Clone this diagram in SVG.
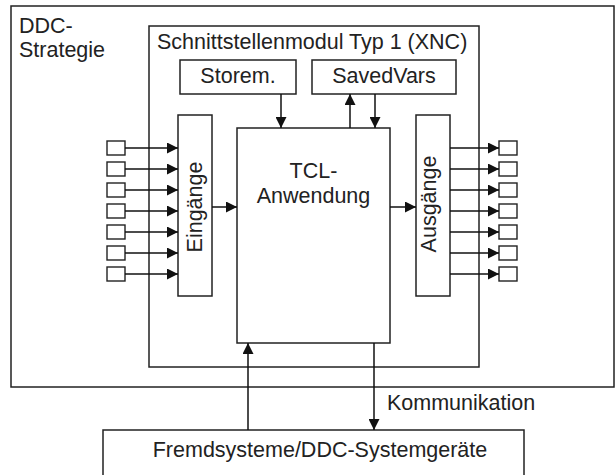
<svg xmlns="http://www.w3.org/2000/svg" width="616" height="475" viewBox="0 0 616 475">
<defs>
<style>
.box{fill:#fff;stroke:#222;stroke-width:1.5}
.sq{fill:#fff;stroke:#222;stroke-width:1.4}
.ln{fill:none;stroke:#111;stroke-width:1.5}
text{font-family:"Liberation Sans",Arial,sans-serif;font-size:21.5px;fill:#222}
.mid{text-anchor:middle}
</style>
<marker id="ah" markerUnits="userSpaceOnUse" markerWidth="11" markerHeight="11" viewBox="0 0 10 10" refX="10" refY="5" orient="auto">
<path d="M0,0 L10,5 L0,10 z" fill="#111"/>
</marker>
</defs>
<rect width="616" height="475" fill="#fff"/>
<g id="ddc-strategie">
<rect class="box" x="11" y="6" width="603" height="381"/>
<text x="19" y="33">DDC-</text>
<text x="19" y="57">Strategie</text>
</g>
<g id="schnittstellenmodul">
<rect class="box" x="149" y="26" width="330" height="341"/>
<text x="157" y="49">Schnittstellenmodul Typ 1 (XNC)</text>
</g>
<g id="storem">
<rect class="box" x="180" y="60" width="116" height="34"/>
<text class="mid" x="238" y="83">Storem.</text>
</g>
<g id="savedvars">
<rect class="box" x="312" y="60" width="144" height="34"/>
<text class="mid" x="384" y="83">SavedVars</text>
</g>
<g id="tcl">
<rect class="box" x="237" y="128" width="153" height="215"/>
<text class="mid" x="313.5" y="178">TCL-</text>
<text class="mid" x="313.5" y="203">Anwendung</text>
</g>
<g id="eingaenge">
<rect class="box" x="178" y="115" width="34" height="181"/>
<text class="mid" transform="translate(202,207) rotate(-90)">Eingänge</text>
</g>
<g id="ausgaenge">
<rect class="box" x="416" y="115" width="34" height="181"/>
<text class="mid" transform="translate(436,204) rotate(-90)">Ausgänge</text>
</g>
<g id="inputs">
<rect class="sq" x="107" y="141" width="18" height="14"/>
<rect class="sq" x="107" y="162" width="18" height="14"/>
<rect class="sq" x="107" y="183" width="18" height="14"/>
<rect class="sq" x="107" y="204" width="18" height="14"/>
<rect class="sq" x="107" y="225" width="18" height="14"/>
<rect class="sq" x="107" y="246" width="18" height="14"/>
<rect class="sq" x="107" y="267" width="18" height="14"/>
</g>
<g id="outputs">
<rect class="sq" x="499" y="141" width="18" height="14"/>
<rect class="sq" x="499" y="162" width="18" height="14"/>
<rect class="sq" x="499" y="183" width="18" height="14"/>
<rect class="sq" x="499" y="204" width="18" height="14"/>
<rect class="sq" x="499" y="225" width="18" height="14"/>
<rect class="sq" x="499" y="246" width="18" height="14"/>
<rect class="sq" x="499" y="267" width="18" height="14"/>
</g>
<g id="fremdsysteme">
<rect class="box" x="103" y="430" width="421" height="60"/>
<text class="mid" x="320" y="457">Fremdsysteme/DDC-Systemgeräte</text>
</g>
<g id="connectors">
<path class="ln" marker-end="url(#ah)" d="M125,148 H178"/>
<path class="ln" marker-end="url(#ah)" d="M125,169 H178"/>
<path class="ln" marker-end="url(#ah)" d="M125,190 H178"/>
<path class="ln" marker-end="url(#ah)" d="M125,211 H178"/>
<path class="ln" marker-end="url(#ah)" d="M125,232 H178"/>
<path class="ln" marker-end="url(#ah)" d="M125,253 H178"/>
<path class="ln" marker-end="url(#ah)" d="M125,274 H178"/>
<path class="ln" marker-end="url(#ah)" d="M450,148 H499"/>
<path class="ln" marker-end="url(#ah)" d="M450,169 H499"/>
<path class="ln" marker-end="url(#ah)" d="M450,190 H499"/>
<path class="ln" marker-end="url(#ah)" d="M450,211 H499"/>
<path class="ln" marker-end="url(#ah)" d="M450,232 H499"/>
<path class="ln" marker-end="url(#ah)" d="M450,253 H499"/>
<path class="ln" marker-end="url(#ah)" d="M450,274 H499"/>
<path class="ln" marker-end="url(#ah)" d="M212,207 H237"/>
<path class="ln" marker-end="url(#ah)" d="M390,207 H416"/>
<path class="ln" marker-end="url(#ah)" d="M281,94 V128"/>
<path class="ln" marker-end="url(#ah)" d="M350,128 V94"/>
<path class="ln" marker-end="url(#ah)" d="M375,94 V128"/>
<path class="ln" marker-end="url(#ah)" d="M248,430 V343"/>
<path class="ln" marker-end="url(#ah)" d="M374,343 V430"/>
<text x="387" y="410">Kommunikation</text>
</g>
</svg>
